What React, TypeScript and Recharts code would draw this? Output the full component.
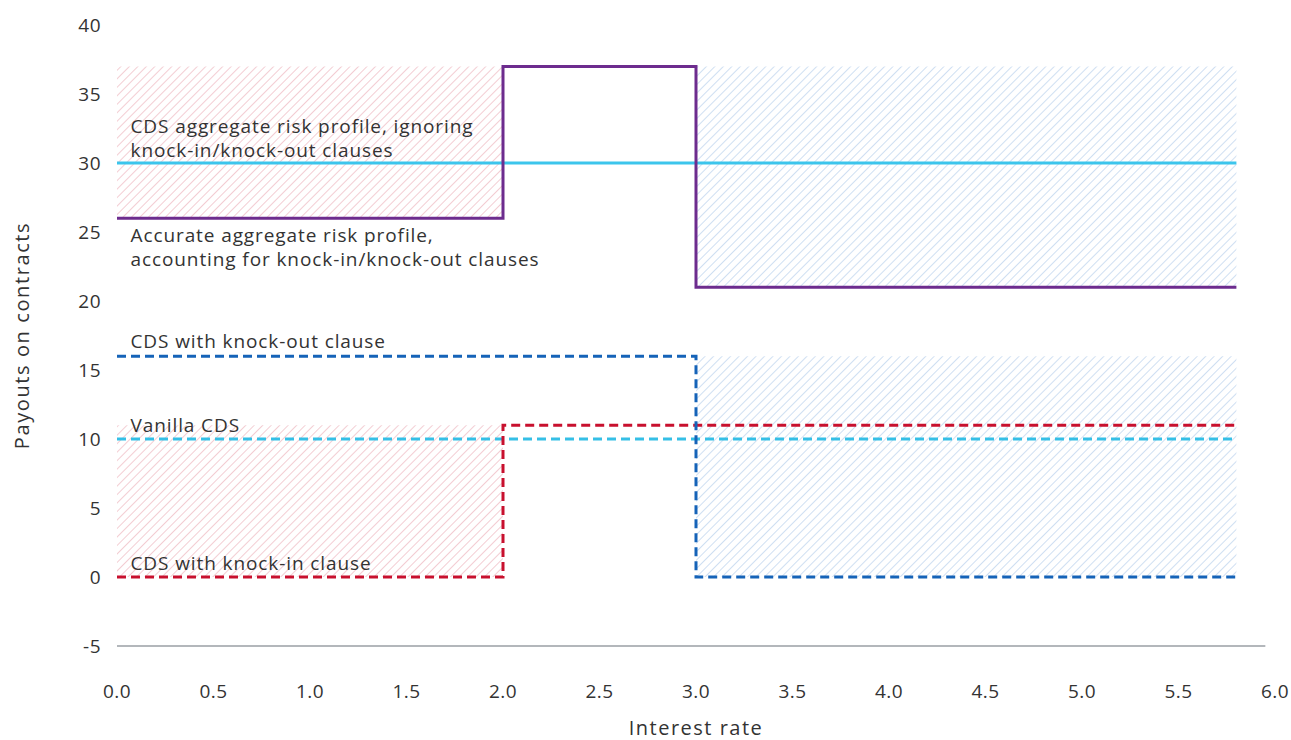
import React from 'react';
import {
  ComposedChart,
  Line,
  XAxis,
  YAxis,
  ReferenceArea,
  ReferenceDot,
  ReferenceLine,
  Label,
} from 'recharts';

// interest rate break points
const RATES = [0, 2, 3, 5.8];
const ACCURATE = [26, 37, 21, 21];
const IGNORING = [30, 30, 30, 30];
const KNOCK_OUT = [16, 16, 0, 0];
const KNOCK_IN = [0, 11, 11, 11];
const VANILLA = [10, 10, 10, 10];

const X_TICKS = [0, 0.5, 1, 1.5, 2, 2.5, 3, 3.5, 4, 4.5, 5, 5.5, 6];
const Y_TICKS = [-5, 0, 5, 10, 15, 20, 25, 30, 35, 40];

// shaded gaps between the aggregate profiles [x1, x2, y1, y2, pattern]
const SHADES: [number, number, number, number, string][] = [
  [0, 2, 26, 37, 'hatchPink'],
  [0, 2, 0, 11, 'hatchPink'],
  [3, 5.8, 21, 37, 'hatchBlue'],
  [3, 5.8, 0, 16, 'hatchBlue'],
];

const NOTES: { x: number; y: number; lines: string[] }[] = [
  { x: 0.07, y: 32.7, lines: ['CDS aggregate risk profile, ignoring', 'knock-in/knock-out clauses'] },
  { x: 0.07, y: 24.75, lines: ['Accurate aggregate risk profile,', 'accounting for knock-in/knock-out clauses'] },
  { x: 0.07, y: 17.1, lines: ['CDS with knock-out clause'] },
  { x: 0.07, y: 11.05, lines: ['Vanilla CDS'] },
  { x: 0.07, y: 0.98, lines: ['CDS with knock-in clause'] },
];

const data = RATES.map((r, i) => ({
  rate: r,
  accurate: ACCURATE[i],
  ignoring: IGNORING[i],
  knockOut: KNOCK_OUT[i],
  knockIn: KNOCK_IN[i],
  vanilla: VANILLA[i],
}));

if (typeof document !== 'undefined') document.body.style.margin = '0';

const FONT = '"Open Sans", sans-serif';
const tickStyle = { fill: '#333', fontSize: 19, fontFamily: FONT, letterSpacing: 0.5 };

const NoteText = (lines: string[]) => (props: any) => {
  const { x, y } = props.viewBox;
  return (
    <text x={x} y={y} fill="#333" fontSize={19} fontFamily={FONT} letterSpacing={0.9} dominantBaseline="central">
      {lines.map((l, i) => (
        <tspan key={i} x={x} dy={i === 0 ? 0 : 24}>{l}</tspan>
      ))}
    </text>
  );
};

const App: React.FC = () => {
  return (
    <div style={{ width: 1291, height: 740 }}>
      <ComposedChart width={1291} height={740} data={data} margin={{ top: 25, right: 16, bottom: 0, left: 0 }}>
        <defs>
          <pattern id="hatchPink" width="6" height="6" patternUnits="userSpaceOnUse" patternTransform="rotate(45)">
            <line x1="0" y1="0" x2="0" y2="6" stroke="#f3cdd3" strokeWidth="2" />
          </pattern>
          <pattern id="hatchBlue" width="6" height="6" patternUnits="userSpaceOnUse" patternTransform="rotate(45)">
            <line x1="0" y1="0" x2="0" y2="6" stroke="#cfdff2" strokeWidth="2" />
          </pattern>
        </defs>
        <XAxis
          dataKey="rate"
          type="number"
          domain={[0, 6]}
          ticks={X_TICKS}
          tickFormatter={(v: number) => v.toFixed(1)}
          axisLine={false}
          tickLine={false}
          tick={tickStyle}
          tickMargin={33}
          height={94}
        >
          <Label value="Interest rate" position="insideBottom" offset={5} fill="#333" fontSize={20} fontFamily={FONT} style={{ letterSpacing: 1.5 }} />
        </XAxis>
        <YAxis
          type="number"
          domain={[-5, 40]}
          ticks={Y_TICKS}
          axisLine={false}
          tickLine={false}
          tick={tickStyle}
          tickMargin={10}
          width={117}
        >
          <Label value="Payouts on contracts" angle={-90} position="insideLeft" offset={22} fill="#333" fontSize={20} fontFamily={FONT} style={{ textAnchor: 'middle', letterSpacing: 1.6 }} />
        </YAxis>
        <ReferenceLine segment={[{ x: 0, y: -5 }, { x: 5.95, y: -5 }]} stroke="#9a9fa5" strokeWidth={1.5} />
        {SHADES.map(([x1, x2, y1, y2, p], i) => (
          <ReferenceArea key={`s${i}`} x1={x1} x2={x2} y1={y1} y2={y2} fill={`url(#${p})`} fillOpacity={1} stroke="none" />
        ))}
        <Line type="stepAfter" dataKey="ignoring" stroke="#3cc5ec" strokeWidth={3} dot={false} isAnimationActive={false} />
        <Line type="stepAfter" dataKey="vanilla" stroke="#35bfe6" strokeWidth={3} strokeDasharray="9 5" dot={false} isAnimationActive={false} />
        <Line type="stepAfter" dataKey="knockIn" stroke="#c8102e" strokeWidth={3} strokeDasharray="9 5" dot={false} isAnimationActive={false} />
        <Line type="stepAfter" dataKey="knockOut" stroke="#1563b8" strokeWidth={3} strokeDasharray="9 5" dot={false} isAnimationActive={false} />
        <Line type="stepAfter" dataKey="accurate" stroke="#6d2c8e" strokeWidth={3} dot={false} isAnimationActive={false} />
        {NOTES.map((n, i) => (
          <ReferenceDot key={`n${i}`} x={n.x} y={n.y} r={0} fill="none" stroke="none" label={NoteText(n.lines)} />
        ))}
      </ComposedChart>
    </div>
  );
};

export default App;
